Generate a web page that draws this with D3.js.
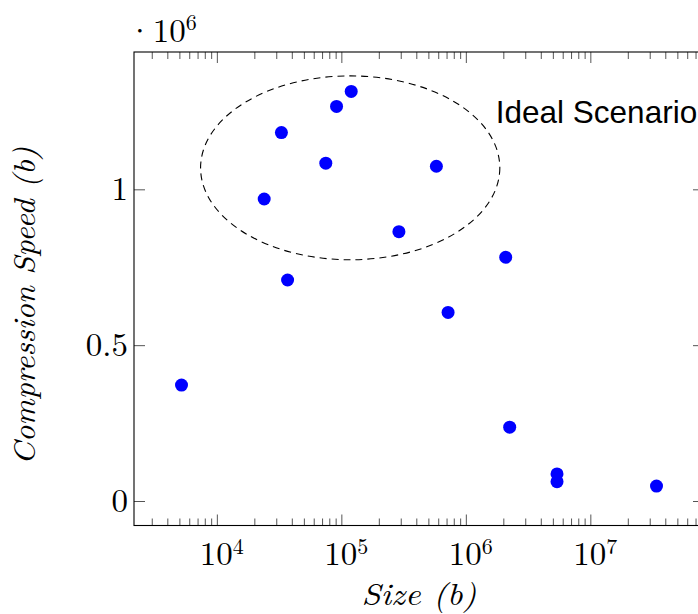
<!DOCTYPE html>
<html>
<head>
<meta charset="utf-8">
<script src="https://cdn.jsdelivr.net/npm/d3@7"></script>
<style>
  html, body { margin: 0; padding: 0; background: #fff; }
  svg { display: block; }
  .serif { font-family: "Latin Modern Roman", "CMU Serif", "Liberation Serif", "DejaVu Serif", serif; }
</style>
</head>
<body>
<svg id="chart" width="698" height="614"></svg>
<script>
// ---- data (size in bytes, compression speed in b/s) ----
const sizes  = [5200, 24000, 33000, 37000, 75000, 91500, 120000, 290000, 580000, 720000, 2090000, 2250000, 5400000, 5400000, 34000000];
const speeds = [372000, 969000, 1182000, 709000, 1084000, 1266000, 1314000, 864000, 1074000, 605000, 782000, 237000, 87000, 62000, 48000];

const xTickExponents = [4, 5, 6, 7];
const yTicks = [0, 500000, 1000000];
const yTickLabels = ["0", "0.5", "1"];
const yMultiplierExp = 6;

// ellipse "Ideal Scenario" bounds in data coordinates
const ellipseX = [7400, 1875000];
const ellipseY = [774000, 1364000];
const annotation = { text: "Ideal Scenario", x: 1740000, y: 1212000 };

const xLabel = "Size (b)";
const yLabel = "Compression Speed (b)";

// ---- layout ----
const svg = d3.select("#chart");
const L = 134, R = 704, T = 52, B = 525.5;

// pgfplots-like 10% enlargement of limits
const lx = d3.extent(sizes, d => Math.log10(d));
const padX = (lx[1] - lx[0]) * 0.1;
const ey = d3.extent(speeds);
const padY = (ey[1] - ey[0]) * 0.1;

const x = d3.scaleLog().domain([Math.pow(10, lx[0] - padX), Math.pow(10, lx[1] + padX)]).range([L, R]);
const y = d3.scaleLinear().domain([ey[0] - padY, ey[1] + padY]).range([B, T]);

// minor ticks
const minor = [];
for (let e = 3; e <= 8; e++) for (let m = 2; m <= 9; m++) {
  const v = m * Math.pow(10, e);
  if (v > x.domain()[0] && v < x.domain()[1]) minor.push(v);
}
const major = xTickExponents.map(e => Math.pow(10, e));

const tickColor = "#555";
function styleAxis(g) {
  g.select(".domain").remove();
  g.selectAll(".tick line").attr("stroke", tickColor).attr("stroke-width", 1);
  g.selectAll(".tick text").remove();
}
svg.append("g").attr("transform", `translate(0,${B})`)
  .call(d3.axisBottom(x).tickValues(minor).tickSize(-7).tickFormat("")).call(styleAxis);
svg.append("g").attr("transform", `translate(0,${B})`)
  .call(d3.axisBottom(x).tickValues(major).tickSize(-11).tickFormat("")).call(styleAxis);
svg.append("g").attr("transform", `translate(0,${T})`)
  .call(d3.axisTop(x).tickValues(minor).tickSize(-7).tickFormat("")).call(styleAxis);
svg.append("g").attr("transform", `translate(0,${T})`)
  .call(d3.axisTop(x).tickValues(major).tickSize(-11).tickFormat("")).call(styleAxis);
svg.append("g").attr("transform", `translate(${L},0)`)
  .call(d3.axisLeft(y).tickValues(yTicks).tickSize(-11).tickFormat("")).call(styleAxis);
svg.append("g").attr("transform", `translate(${R},0)`)
  .call(d3.axisRight(y).tickValues(yTicks).tickSize(-11).tickFormat("")).call(styleAxis);

// frame
svg.append("rect").attr("x", L).attr("y", T).attr("width", R - L).attr("height", B - T)
  .attr("fill", "none").attr("stroke", "#000").attr("stroke-width", 1.1);

// x tick labels
const xl = svg.append("g").attr("class", "serif");
xTickExponents.forEach(e => {
  const t = xl.append("text").attr("x", x(Math.pow(10, e)) + 5).attr("y", B + 39.5)
    .attr("text-anchor", "middle").attr("font-size", 33).attr("fill", "#000");
  t.append("tspan").text("10");
  t.append("tspan").attr("font-size", 22).attr("dy", -11).text(String(e));
});

// y tick labels
yTicks.forEach((v, i) => {
  svg.append("text").attr("class", "serif").attr("x", L - 6).attr("y", y(v) + 11)
    .attr("text-anchor", "end").attr("font-size", 33).attr("fill", "#000").text(yTickLabels[i]);
});

// multiplier (single text element)
const mult = svg.append("text").attr("class", "serif").attr("x", 127).attr("y", 41.5)
  .attr("font-size", 33).attr("fill", "#000");
mult.append("tspan").text("\u00B710");
mult.append("tspan").attr("font-size", 22).attr("dy", -12).text(String(yMultiplierExp));

// axis labels
svg.append("text").attr("class", "serif").attr("x", (L + R) / 2).attr("y", 605)
  .attr("text-anchor", "middle").attr("font-size", 31).attr("font-style", "italic")
  .attr("textLength", 115).attr("lengthAdjust", "spacingAndGlyphs").text(xLabel);
svg.append("text").attr("class", "serif")
  .attr("transform", `translate(35,306) rotate(-90)`)
  .attr("text-anchor", "middle").attr("font-size", 31).attr("font-style", "italic")
  .attr("textLength", 318).attr("lengthAdjust", "spacingAndGlyphs").text(yLabel);

// ellipse
const ex0 = x(ellipseX[0]), ex1 = x(ellipseX[1]);
const ey0 = y(ellipseY[1]), ey1 = y(ellipseY[0]);
svg.append("ellipse")
  .attr("cx", (ex0 + ex1) / 2).attr("cy", (ey0 + ey1) / 2)
  .attr("rx", (ex1 - ex0) / 2).attr("ry", (ey1 - ey0) / 2)
  .attr("fill", "none").attr("stroke", "#000").attr("stroke-width", 1.1)
  .attr("stroke-dasharray", "7,5");

// annotation
svg.append("text").attr("x", x(annotation.x)).attr("y", y(annotation.y))
  .attr("font-family", "Liberation Sans, Arial, Helvetica, sans-serif")
  .attr("font-size", 31.5).attr("fill", "#000").text(annotation.text);

// points
svg.append("g").selectAll("circle").data(sizes.map((s, i) => [s, speeds[i]]))
  .join("circle")
  .attr("cx", d => x(d[0])).attr("cy", d => y(d[1])).attr("r", 6.5)
  .attr("fill", "#0000ff");
</script>
</body>
</html>
